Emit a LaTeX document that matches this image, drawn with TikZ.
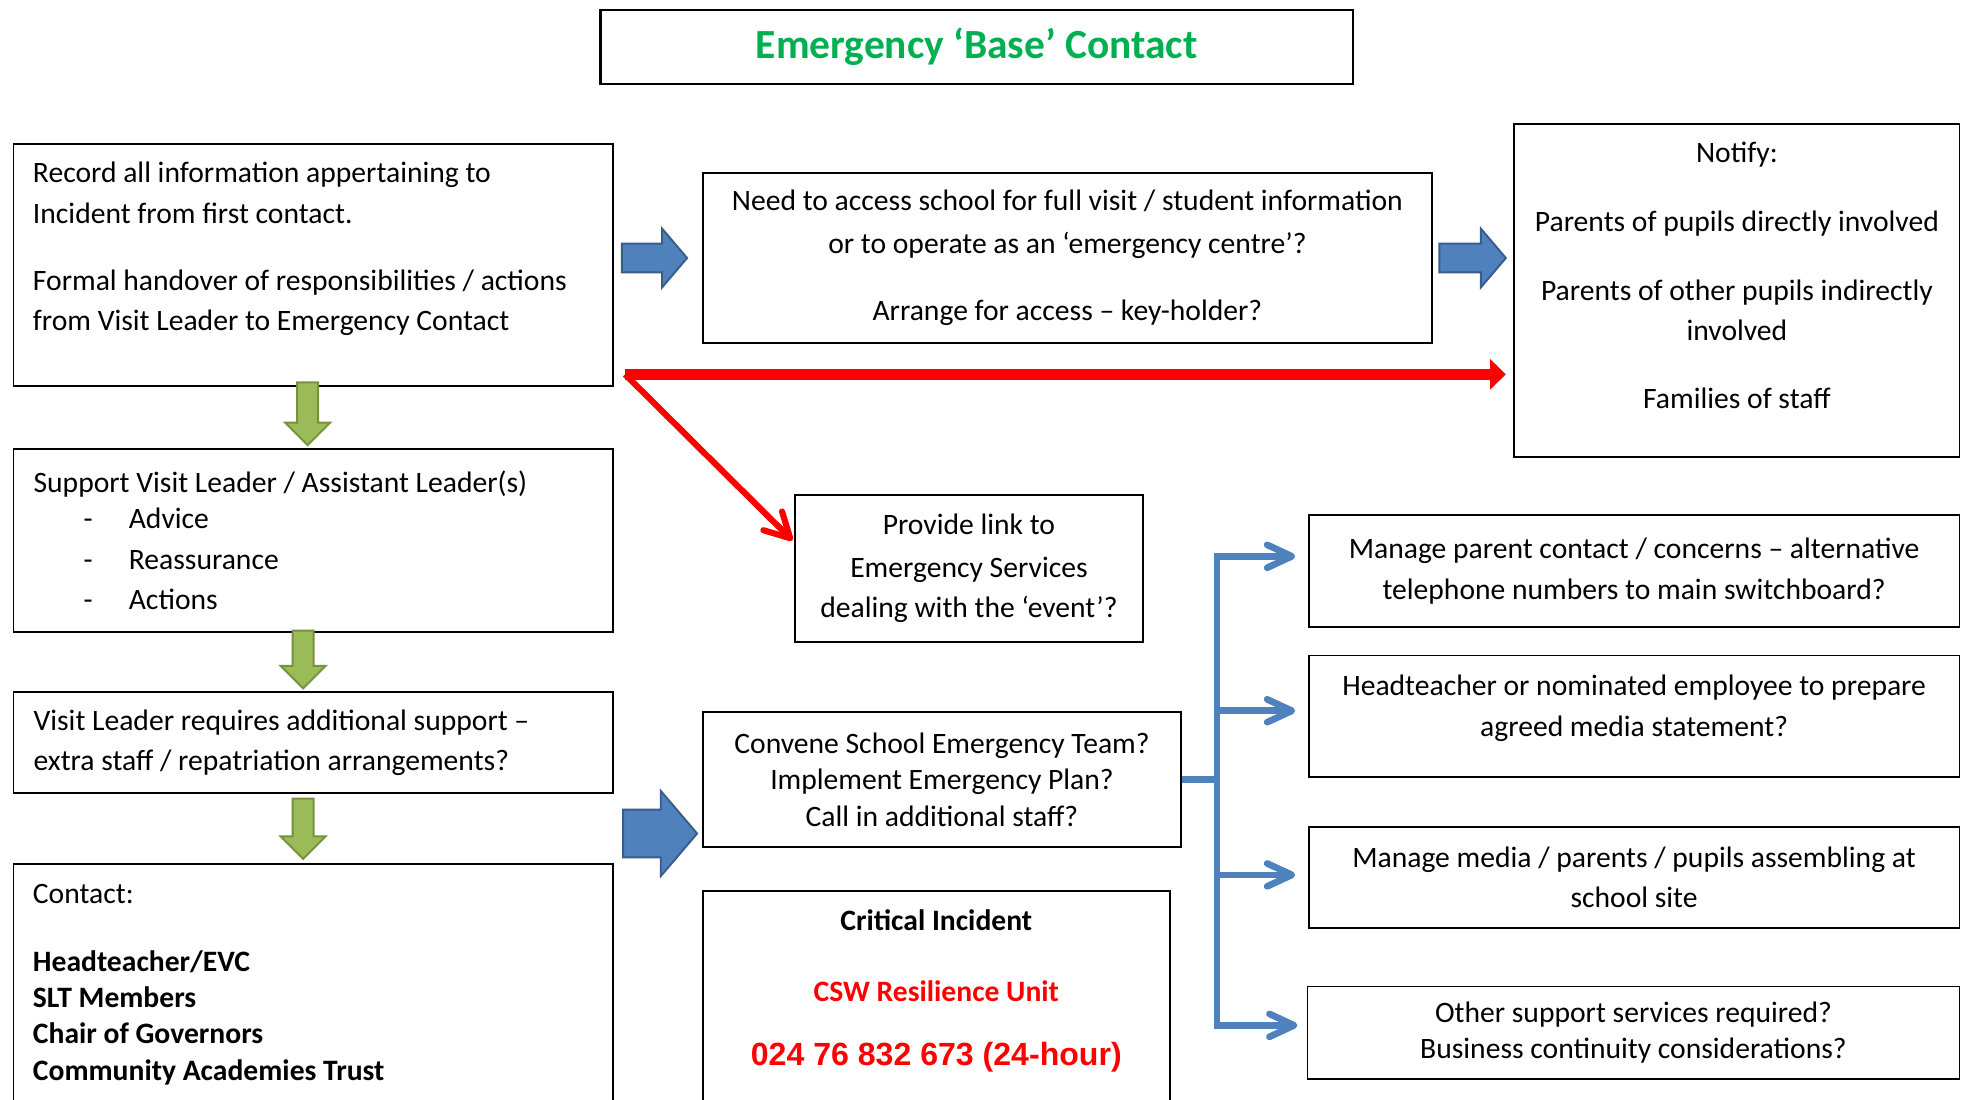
\documentclass[tikz,border=0pt]{standalone}
\usepackage{fontspec}
\setmainfont{Carlito}
\newfontfamily\phonefont{Liberation Sans}
\usetikzlibrary{positioning,arrows.meta,calc}

\definecolor{titlegreen}{RGB}{0,176,80}
\definecolor{arrowblue}{RGB}{79,129,189}
\definecolor{arrowblueedge}{RGB}{56,93,138}
\definecolor{arrowgreen}{RGB}{155,187,89}
\definecolor{arrowgreenedge}{RGB}{118,146,60}
\definecolor{alertred}{RGB}{255,0,0}

\newcommand{\bodysize}{\fontsize{16.8}{23}\selectfont}
\newcommand{\dashitem}[1]{\makebox[1.9cm][l]{\hspace*{1cm}-}#1}

\begin{document}
\begin{tikzpicture}[
    box/.style={draw, line width=1.1pt, anchor=north west, inner xsep=0.4cm, inner ysep=0pt, font=\bodysize, align=center},
    boxtext/.style={inner sep=0pt, font=\bodysize},
    bluearrow/.style={draw=arrowblueedge, fill=arrowblue, line width=1.1pt},
    greenarrow/.style={draw=arrowgreenedge, fill=arrowgreen, line width=1.1pt},
    redthick/.style={draw=alertred, line width=6.5pt, -{Triangle[length=9pt,width=17pt]}},
    redthin/.style={draw=alertred, line width=3.5pt, -{Straight Barb[length=14pt,width=15pt,round]}},
    treeline/.style={draw=arrowblue, line width=3.8pt},
    treearrow/.style={treeline, -{Straight Barb[length=14pt,width=13pt,round]}}
]

\useasboundingbox (0,0) rectangle (39.2,-21.925);
\clip (0,0) rectangle (39.2,-21.925);

% Title
\node[box, line width=1.4pt, minimum width=15cm, minimum height=1.475cm,
      font=\fontsize{23.5}{28}\selectfont\bfseries, text=titlegreen] (title) at (11.95,-0.175)
    {Emergency ‘Base’ Contact};

% Left column
\node[box, minimum width=11.95cm, minimum height=4.825cm] (record) at (0.25,-2.85) {};
\node[boxtext, align=left, anchor=north west] (recordtext) at ([shift={(0.4,-0.375)}]record.north west)
    {Record all information appertaining to\\ Incident from first contact.\\[14.9pt]
     Formal handover of responsibilities / actions\\ from Visit Leader to Emergency Contact};

\node[box, minimum width=11.95cm, minimum height=3.65cm, text width=11.15cm, align=flush left] (support) at (0.25,-8.925)
    {Support Visit Leader / Assistant Leader(s)\\[-2.4pt] \dashitem{Advice}\\ \dashitem{Reassurance}\\ \dashitem{Actions}};

\node[box, minimum width=11.95cm, minimum height=2.025cm, text width=11.15cm, align=flush left] (extra) at (0.25,-13.775)
    {Visit Leader requires additional support –\\ extra staff / repatriation arrangements?};

\node[box, minimum width=11.95cm, minimum height=6cm] (contact) at (0.25,-17.2) {};
\node[boxtext, align=left, anchor=north west] (contacttext) at ([shift={(0.4,-0.425)}]contact.north west)
    {Contact:\\[15.4pt] \textbf{Headteacher/EVC}\\[-2.4pt] \textbf{SLT Members}\\[-2.4pt]
     \textbf{Chair of Governors}\\[-2.4pt] \textbf{Community Academies Trust}};

% Middle column
\node[box, minimum width=14.525cm, minimum height=3.4cm] (access) at (14,-3.425)
    {Need to access school for full visit / student information\\[1.2pt]
     or to operate as an ‘emergency centre’?\\[15.4pt] Arrange for access – key-holder?};

\node[box, minimum width=6.95cm, minimum height=2.925cm] (link) at (15.825,-9.85)
    {Provide link to\\[1.2pt] Emergency Services\\ dealing with the ‘event’?};

\node[box, minimum width=9.525cm, minimum height=2.7cm] (convene) at (14,-14.175)
    {Convene School Emergency Team?\\[-2.4pt] Implement Emergency Plan?\\[-2.4pt] Call in additional staff?};

\node[box, minimum width=9.3cm, minimum height=6cm] (crit) at (14,-17.75) {};
\node[boxtext, align=center, anchor=north] (crittext) at ([yshift=-0.38cm]crit.north)
    {\textbf{Critical Incident}\\[17.5pt] \textcolor{alertred}{\textbf{CSW Resilience Unit}}\\[13.3pt]
     \textcolor{alertred}{\phonefont\bfseries\fontsize{18.2}{22}\selectfont 024 76 832 673 (24-hour)}};

% Right column
\node[box, minimum width=8.875cm, minimum height=6.65cm] (notify) at (30.175,-2.45) {};
\node[boxtext, align=center, anchor=north] (notifytext) at ([yshift=-0.375cm]notify.north)
    {Notify:\\[16.1pt] Parents of pupils directly involved\\[16.1pt] Parents of other pupils indirectly\\
     involved\\[15.4pt] Families of staff};

\node[box, minimum width=12.975cm, minimum height=2.225cm] (parent) at (26.075,-10.25)
    {Manage parent contact / concerns – alternative\\ telephone numbers to main switchboard?};

\node[box, minimum width=12.975cm, minimum height=2.425cm] (media) at (26.075,-13.05) {};
\node[boxtext, align=center, anchor=north] (mediatext) at ([yshift=-0.4cm]media.north)
    {Headteacher or nominated employee to prepare\\ agreed media statement?};

\node[box, minimum width=12.975cm, minimum height=2cm] (site) at (26.075,-16.475)
    {Manage media / parents / pupils assembling at\\ school site};

\node[box, minimum width=13cm, minimum height=1.85cm] (other) at (26.05,-19.65)
    {Other support services required?\\[-2.4pt] Business continuity considerations?};

% Green block arrows down the left column
\draw[greenarrow] ([shift={(-0.11,0.05)}]support.north) -- ++(-0.45,0.45) -- ++(0.24,0) -- ++(0,0.8)
    -- ++(0.42,0) -- ++(0,-0.8) -- ++(0.24,0) -- cycle;
\draw[greenarrow] ([shift={(-0.2,0.05)}]extra.north) -- ++(-0.45,0.45) -- ++(0.24,0) -- ++(0,0.7)
    -- ++(0.42,0) -- ++(0,-0.7) -- ++(0.24,0) -- cycle;
\draw[greenarrow] ([shift={(-0.2,0.075)}]contact.north) -- ++(-0.45,0.45) -- ++(0.24,0) -- ++(0,0.75)
    -- ++(0.42,0) -- ++(0,-0.75) -- ++(0.24,0) -- cycle;

% Blue block arrows
\draw[bluearrow] ([xshift=-0.3cm]access.west) -- ++(-0.5,0.5875) -- ++(0,-0.3) -- ++(-0.8,0)
    -- ++(0,-0.575) -- ++(0.8,0) -- ++(0,-0.3) -- cycle;
\draw[bluearrow] ([xshift=-0.15cm]notify.west |- access.east) -- ++(-0.5,0.5875) -- ++(0,-0.3) -- ++(-0.825,0)
    -- ++(0,-0.575) -- ++(0.825,0) -- ++(0,-0.3) -- cycle;
\draw[bluearrow] ([shift={(-0.1,-1.075)}]convene.west) -- ++(-0.725,0.85) -- ++(0,-0.375) -- ++(-0.75,0)
    -- ++(0,-0.95) -- ++(0.75,0) -- ++(0,-0.375) -- cycle;

% Red arrows
\coordinate (redstart) at ([shift={(0.225,0.25)}]record.south east);
\draw[redthin] (redstart) -- ([shift={(-0.025,-0.925)}]link.north west);
\draw[redthick] (redstart) -- ([xshift=-0.15cm]notify.west |- redstart);

% Blue tree to the right-hand boxes
\coordinate (trunk) at ([xshift=0.7cm]convene.east);
\draw[treeline] (convene.east) -- (trunk);
\draw[treearrow] (trunk) |- ([shift={(-0.25,0.29)}]parent.west);
\draw[treearrow] (trunk) |- ([shift={(-0.25,0.11)}]media.west);
\draw[treearrow] (trunk) |- ([shift={(-0.25,0.05)}]site.west);
\draw[treearrow] (trunk) |- ([shift={(-0.18,0.15)}]other.west);

\end{tikzpicture}
\end{document}
